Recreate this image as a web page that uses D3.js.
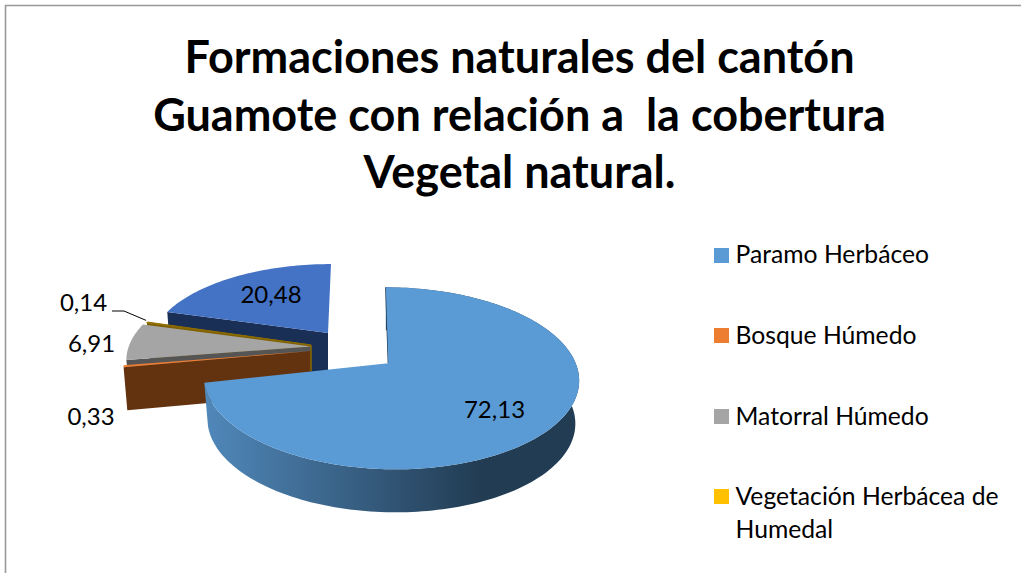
<!DOCTYPE html>
<html><head><meta charset="utf-8">
<script src="https://cdn.jsdelivr.net/npm/d3@7/dist/d3.min.js"></script>
<style>html,body{margin:0;padding:0;background:#fff;overflow:hidden}svg{display:block}text{font-family:Lato,"Open Sans",sans-serif;fill:#000;white-space:pre}</style>
</head><body><svg id="c" width="1021" height="573"></svg>
<script>
const titleLines = ["Formaciones naturales del cantón", "Guamote con relación a  la cobertura", "Vegetal natural."];
const categories = ["Paramo Herbáceo", "Bosque Húmedo", "Matorral Húmedo", "Vegetación Herbácea de Humedal"];
const legendLines = [["Paramo Herbáceo"], ["Bosque Húmedo"], ["Matorral Húmedo"], ["Vegetación Herbácea de", "Humedal"]];
const sliceNames = ["Paramo Herbáceo", "Bosque Húmedo", "Matorral Húmedo", "Vegetación Herbácea de Humedal", "Cuarta"];
const values = [72.13, 0.33, 6.91, 0.14, 20.48];
const valueLabels = ["72,13", "0,33", "6,91", "0,14", "20,48"];
const topColors = ["#5b9bd5", "#ed7d31", "#a5a5a5", "#ffc000", "#4472c4"];
const wallColors = ["url(#mainWall)", "#63320f", "#555555", "#7f6000", "#1a2f55"];
const legendColors = ["#5b9bd5", "#ed7d31", "#a5a5a5", "#ffc000"];

const svg = d3.select("#c");
const arcs = d3.pie().sort(null).value(d => d).startAngle(0).endAngle(2 * Math.PI)(values);

// pose of each exploded slice in the oblique projection
const pose = [
  {ax: 388.3, ay: 363.3, s: 1,    sy: 1,    ox: 2.5, oy: 3, skew: -5},
  {ax: 311,   ay: 351,   s: 1,    sy: 0.99, ox: 0,   oy: 0, skew: 0},
  {ax: 311,   ay: 346.5, s: 0.98, sy: 0.94, ox: 0,   oy: 0, skew: 5},
  {ax: 311,   ay: 345,   s: 0.95, sy: 0.95, ox: 0,   oy: 0, skew: 0},
  {ax: 328,   ay: 333,   s: 0.93, sy: 0.873, ox: -2, oy: 0, skew: 5}
];
const RX = 186, RY = 89.4, K = 0.132, DEPTH = 43;

function project(p, t, down) {
  const u = Math.sin(t), v = Math.cos(t), w = 1 + K * v;
  let dx = p.ox + p.s * RX * u / w + p.skew * v;
  let dy = p.oy - p.sy * RY * v / w;
  if (down) { dx *= 0.98; dy += DEPTH; }
  return [p.ax + dx, p.ay + dy];
}
function samples(a) {
  return d3.range(0, 1.0001, 1 / Math.max(2, Math.ceil((a.endAngle - a.startAngle) * 40))).map(f => a.startAngle + f * (a.endAngle - a.startAngle));
}
const line = d3.line();
const defs = svg.append("defs");
const grad = defs.append("linearGradient").attr("id", "mainWall").attr("gradientUnits", "userSpaceOnUse")
  .attr("x1", 205).attr("x2", 480).attr("y1", 0).attr("y2", 0);
grad.append("stop").attr("offset", 0).attr("stop-color", "#5088ba");
grad.append("stop").attr("offset", 1).attr("stop-color", "#223c53");

// frame
svg.append("path").attr("d", "M5.5,573V5.5H1021").attr("fill", "none").attr("stroke", "#999999").attr("stroke-width", 1.6);

// paint order: back slice first, main slice last
[4, 3, 2, 1, 0].forEach(i => {
  const a = arcs[i], p = pose[i], ts = samples(a);
  const g = svg.append("g").attr("class", "slice").attr("data-name", sliceNames[i]);
  if (i === 0) {
    const top = ts.map(t => project(p, t, false)), bot = ts.map(t => project(p, t, true)).reverse();
    g.append("path").attr("d", line(top.concat(bot)) + "Z").attr("fill", wallColors[i]);
    g.append("path").attr("d", line([[p.ax, p.ay], project(p, a.startAngle, false)])).attr("stroke", "#21394f").attr("stroke-width", 1.3).attr("fill", "none");
  } else {
    // cut face toward the viewer, running from the apex along the start edge
    const outer = project(p, a.startAngle, false), outerB = project(p, a.startAngle, true);
    g.append("path").attr("d", line([[p.ax, p.ay], outer, outerB, [p.ax, p.ay + DEPTH]]) + "Z").attr("fill", wallColors[i]);
  }
  const face = [[p.ax, p.ay]].concat(ts.map(t => project(p, t, false)));
  g.append("path").attr("d", line(face) + "Z").attr("fill", topColors[i])
    .attr("stroke", i === 3 ? "#8a6a00" : "none").attr("stroke-width", i === 3 ? 1 : 0);
});
// rear vertical edge of the thin gold slice
svg.append("path").attr("d", line([[pose[3].ax, pose[3].ay], [pose[3].ax, pose[3].ay + 26]])).attr("stroke", "#8a6a00").attr("stroke-width", 1.5);

// title
svg.append("g").selectAll("text").data(titleLines).join("text")
  .attr("x", 519.5).attr("y", (d, i) => 73 + i * 57.5).attr("text-anchor", "middle")
  .attr("font-size", 45).attr("font-weight", 700).text(d => d);

// value labels
const labelPos = [[494.5, 418], [91, 425], [91.5, 352], [83.5, 311], [271, 303]];
svg.append("g").selectAll("text").data(valueLabels).join("text")
  .attr("x", (d, i) => labelPos[i][0]).attr("y", (d, i) => labelPos[i][1]).attr("text-anchor", "middle")
  .attr("font-size", 24).text(d => d);

// leader line
const goldTip = project(pose[3], (arcs[3].startAngle + arcs[3].endAngle) / 2, false);
svg.append("path").attr("d", line([[112, 311], [124, 311], [goldTip[0] - 1, goldTip[1] - 2]])).attr("fill", "none").attr("stroke", "#000").attr("stroke-width", 1);

// legend
const swatchY = [248, 328, 409, 489];
const legendBase = [263, 344, 425, 505];
const lg = svg.append("g").selectAll("g").data(categories).join("g");
lg.append("rect").attr("x", 714).attr("y", (d, i) => swatchY[i]).attr("width", 15).attr("height", 15).attr("fill", (d, i) => legendColors[i]);
lg.each(function (d, i) {
  d3.select(this).selectAll("text").data(legendLines[i]).join("text")
    .attr("x", 735.5).attr("y", (t, j) => legendBase[i] + j * 32.5).attr("font-size", 24.7).text(t => t);
});
</script></body></html>
